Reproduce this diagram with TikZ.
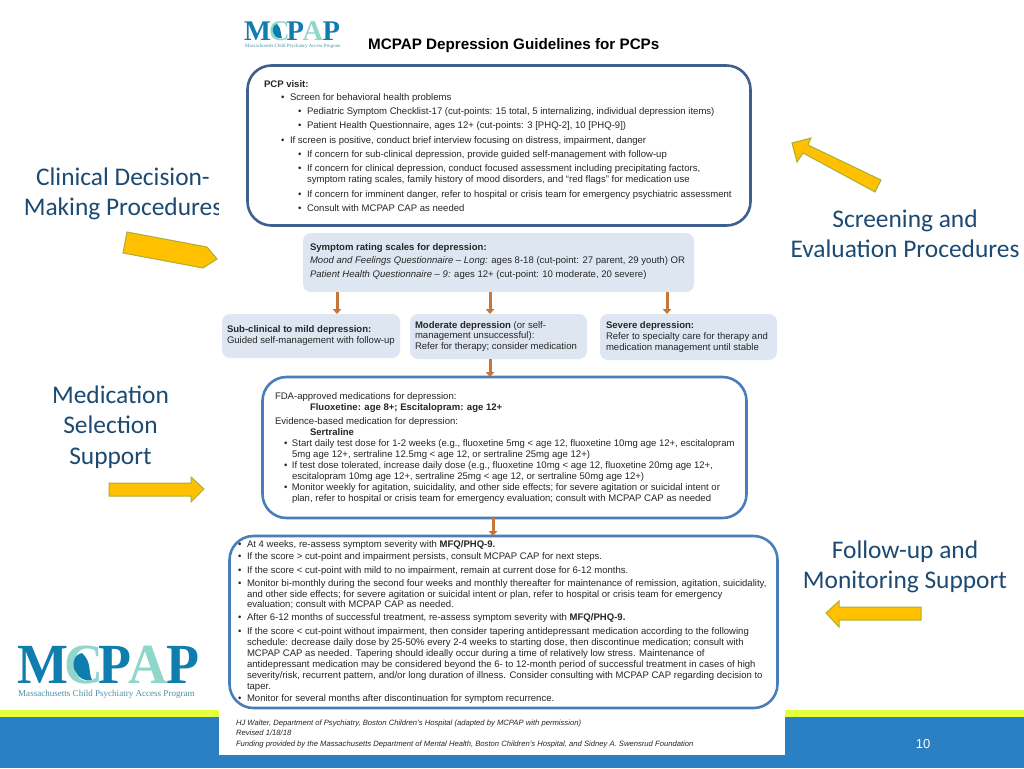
\documentclass[tikz,border=0pt]{standalone}
\usepackage{fontspec}
\usepackage{xcolor}
\usepackage{graphicx}
\setmainfont{Liberation Sans}
\newfontfamily\labelfont{Carlito}
\newfontfamily\logofont{Liberation Serif}
\usetikzlibrary{arrows.meta}
\definecolor{bandblue}{HTML}{2A80C3}
\definecolor{bandyellow}{HTML}{E4FF3E}
\definecolor{framedark}{HTML}{3F5F8F}
\definecolor{framemid}{HTML}{4A7EBB}
\definecolor{softfill}{HTML}{DEE7F1}
\definecolor{connbrown}{HTML}{C5763A}
\definecolor{gold}{HTML}{FFC000}
\definecolor{goldedge}{HTML}{A9AE3C}
\definecolor{labelblue}{HTML}{1C4A72}
\definecolor{logoblue}{HTML}{0F7EAE}
\definecolor{logoteal}{HTML}{8FD6CB}
\definecolor{logosub}{HTML}{4E8FA3}
\definecolor{bodyink}{HTML}{262626}
\newcount\tlc
\newcommand{\tl}[4][]{\global\advance\tlc by 1
  \node[doctext,#1] (tl\the\tlc) at (#2,#3+3.2) {#4};}
\newcommand{\bl}[5][]{\global\advance\tlc by 1
  \node[doctext,#1] (tl\the\tlc) at (#2,#4+3.2) {\makebox[#3pt][l]{\textbullet}#5};}
\tikzset{
  doctext/.style={anchor=base west,inner sep=0pt,outer sep=0pt,text=bodyink,font=\fontsize{9.55}{11}\selectfont},
  footnotetext/.style={font=\fontsize{7.65}{9}\itshape\selectfont},
  framebox/.style={draw=framemid,line width=2.6pt,fill=white,rounded corners=24pt,inner sep=0pt,outer sep=0pt},
  softbox/.style={fill=softfill,draw=none,rounded corners=8pt,inner sep=0pt,outer sep=0pt},
  conn/.style={draw=connbrown,line width=3pt,-{Triangle[length=5pt,width=8.5pt,fill=connbrown]}},
  goldarrow/.style={fill=gold,draw=goldedge,line width=1pt,line join=miter},
  sidelabel/.style={inner sep=0pt,text=labelblue,align=center,font=\labelfont\fontsize{25.4}{30.5}\selectfont},
}
\begin{document}
\begin{tikzpicture}[x=1pt,y=-1pt]
\useasboundingbox (0,0) rectangle (1024,768);
\fill[white] (0,0) rectangle (1024,768);
% slide bands
\fill[bandyellow] (0,709.5) rectangle (1024,717);
\fill[bandblue] (0,717) rectangle (1024,768);
% side labels (the guideline page covers their edge)
\node[sidelabel] (clinical) at (123,194) {Clinical Decision-\\Making Procedures};
\node[sidelabel] (screening) at (905,233.8) {Screening and\\Evaluation Procedures};
\node[sidelabel] (medication) at (110.5,427) {Medication\\Selection\\Support};
\node[sidelabel] (followup) at (905,567) {Follow-up and\\Monitoring Support};
% guideline page
\fill[white] (219,0) rectangle (785,755);
% gold arrows
\draw[goldarrow] (127,232) -- (207,247) -- (217,259) -- (203,268) -- (123,253) -- cycle;
\draw[goldarrow] (792,143) -- (811,138) -- (808,145) -- (881,180) -- (875,192) -- (803,153) -- (797,162) -- cycle;
\draw[goldarrow] (109,483) -- (191,483) -- (191,477) -- (204,489) -- (191,502) -- (191,496) -- (109,496) -- cycle;
\draw[goldarrow] (826,613) -- (839,601) -- (839,607) -- (921,607) -- (921,620) -- (839,620) -- (839,627) -- cycle;
% large logo
\node[inner sep=0pt,anchor=base west,font=\logofont\bfseries\fontsize{54}{54}\selectfont] (biglogo) at (17,683)
  {\scalebox{1}[1.05]{\textcolor{logoblue}{M}\kern-4pt\textcolor{logoteal}{C}\kern-5pt\textcolor{logoblue}{P}\kern-3pt\textcolor{logoteal}{A}\kern-1pt\textcolor{logoblue}{P}}};
\fill[logoblue] (82,653) .. controls (72,655) and (72,668) .. (76,672) .. controls (78,678) and (86,682) .. (92,680) .. controls (88,672) and (92,662) .. (82,653) -- cycle;
\node[inner sep=0pt,anchor=base west,text=logosub,font=\logofont\fontsize{9.05}{10}\selectfont] (bigsub) at (18,696.5) {Massachusetts Child Psychiatry Access Program};
% small logo
\node[inner sep=0pt,anchor=base west,font=\logofont\bfseries\fontsize{28.5}{29}\selectfont] (smalllogo) at (244,41)
  {\textcolor{logoblue}{M}\kern-2pt\textcolor{logoteal}{C}\kern-3pt\textcolor{logoblue}{P}\kern-1.5pt\textcolor{logoteal}{A}\kern-.5pt\textcolor{logoblue}{P}};
\fill[logoblue] (277,24) .. controls (272,25) and (272,32) .. (274,34) .. controls (275,37) and (279,39) .. (282,38) .. controls (280,34) and (282,29) .. (277,24) -- cycle;
\node[inner sep=0pt,anchor=base west,text=logosub,font=\logofont\fontsize{4.9}{6}\selectfont] (smallsub) at (245,48) {Massachusetts Child Psychiatry Access Program};
% title
\node[inner sep=0pt,anchor=base west,text=black,font=\fontsize{15.2}{18}\bfseries\selectfont] (title) at (368,49) {MCPAP Depression Guidelines for PCPs};
% frames
\node[framebox,draw=framedark,minimum width=503pt,minimum height=160pt] (pcp) at (499,145.5) {};
\node[softbox,minimum width=391pt,minimum height=59pt] (scales) at (498.5,262.5) {};
\node[softbox,minimum width=178pt,minimum height=44pt] (sub) at (311,336) {};
\node[softbox,minimum width=177pt,minimum height=45pt] (mod) at (498.5,336.5) {};
\node[softbox,minimum width=177pt,minimum height=46pt] (sev) at (688.5,337) {};
\node[framebox,minimum width=484pt,minimum height=141pt] (med) at (504.5,447.5) {};
\node[framebox,minimum width=548pt,minimum height=172pt] (fup) at (503.5,622) {};
% connectors
\coordinate (c1) at (337,0);
\coordinate (c2) at (490,0);
\coordinate (c3) at (667,0);
\coordinate (c4) at (493,0);
\draw[conn] (scales.south -| c1) -- (sub.north -| c1);
\draw[conn] (scales.south -| c2) -- (mod.north -| c2);
\draw[conn] (scales.south -| c3) -- (sev.north -| c3);
\draw[conn] (mod.south -| c2) -- (med.north -| c2);
\draw[conn] (med.south -| c4) -- (fup.north -| c4);
% PCP visit
\tl{264}{84}{\bfseries PCP visit:}
\bl{281}{9}{97.3}{Screen for behavioral health problems}
\bl{298}{9}{111.3}{Pediatric Symptom Checklist-17 (cut-points: 15 total, 5 internalizing, individual depression items)}
\bl{298}{9}{125.7}{Patient Health Questionnaire, ages 12+ (cut-points: 3 [PHQ-2], 10 [PHQ-9])}
\bl{281}{9}{140}{If screen is positive, conduct brief interview focusing on distress, impairment, danger}
\bl{298}{9}{154}{If concern for sub-clinical depression, provide guided self-management with follow-up}
\bl{298}{9}{168.7}{If concern for clinical depression, conduct focused assessment including precipitating factors,}
\tl{307}{179.7}{symptom rating scales, family history of mood disorders, and “red flags” for medication use}
\bl{298}{9}{194}{If concern for imminent danger, refer to hospital or crisis team for emergency psychiatric assessment}
\bl{298}{9}{208}{Consult with MCPAP CAP as needed}
% rating scales
\tl{310}{247}{\bfseries Symptom rating scales for depression:}
\tl{310}{260.7}{\itshape Mood and Feelings Questionnaire – Long:\upshape{} ages 8-18 (cut-point: 27 parent, 29 youth) OR}
\tl{310}{274.3}{\itshape Patient Health Questionnaire – 9:\upshape{} ages 12+ (cut-point: 10 moderate, 20 severe)}
% outcomes
\tl{227}{329.7}{\bfseries Sub-clinical to mild depression:}
\tl{227}{340.7}{Guided self-management with follow-up}
\tl{415}{325}{\textbf{Moderate depression} (or self-}
\tl{415}{335.7}{management unsuccessful):}
\tl{415}{346.7}{Refer for therapy; consider medication}
\tl{606}{325.7}{\bfseries Severe depression:}
\tl{606}{336.7}{Refer to specialty care for therapy and}
\tl{606}{347.7}{medication management until stable}
% medication
\tl{275}{396.7}{FDA-approved medications for depression:}
\tl{310}{407.7}{\bfseries Fluoxetine: age 8+; Escitalopram: age 12+}
\tl{275}{421}{Evidence-based medication for depression:}
\tl{310}{432}{\bfseries Sertraline}
\bl{284}{8}{443.7}{Start daily test dose for 1-2 weeks (e.g., fluoxetine 5mg < age 12, fluoxetine 10mg age 12+, escitalopram}
\tl{292}{454.3}{5mg age 12+, sertraline 12.5mg < age 12, or sertraline 25mg age 12+)}
\bl{284}{8}{465}{If test dose tolerated, increase daily dose (e.g., fluoxetine 10mg < age 12, fluoxetine 20mg age 12+,}
\tl{292}{476.7}{escitalopram 10mg age 12+, sertraline 25mg < age 12, or sertraline 50mg age 12+)}
\bl{284}{8}{487.7}{Monitor weekly for agitation, suicidality, and other side effects; for severe agitation or suicidal intent or}
\tl{292}{498.3}{plan, refer to hospital or crisis team for emergency evaluation; consult with MCPAP CAP as needed}
% follow-up
\bl{238}{9}{544}{At 4 weeks, re-assess symptom severity with \textbf{MFQ/PHQ-9.}}
\bl{238}{9}{556.7}{If the score > cut-point and impairment persists, consult MCPAP CAP for next steps.}
\bl{238}{9}{570}{If the score < cut-point with mild to no impairment, remain at current dose for 6-12 months.}
\bl{238}{9}{583}{Monitor bi-monthly during the second four weeks and monthly thereafter for maintenance of remission, agitation, suicidality,}
\tl{247}{594}{and other side effects; for severe agitation or suicidal intent or plan, refer to hospital or crisis team for emergency}
\tl{247}{604.7}{evaluation; consult with MCPAP CAP as needed.}
\bl{238}{9}{617.7}{After 6-12 months of successful treatment, re-assess symptom severity with \textbf{MFQ/PHQ-9.}}
\bl{238}{9}{631}{If the score < cut-point without impairment, then consider tapering antidepressant medication according to the following}
\tl{247}{642}{schedule: decrease daily dose by 25-50\% every 2-4 weeks to starting dose, then discontinue medication; consult with}
\tl{247}{653}{MCPAP CAP as needed.  Tapering should ideally occur during a time of relatively low stress.  Maintenance of}
\tl{247}{664}{antidepressant medication may be considered beyond the 6- to 12-month period of successful treatment in cases of high}
\tl{247}{675}{severity/risk, recurrent pattern, and/or long duration of illness.  Consider consulting with MCPAP CAP regarding decision to}
\tl{247}{686}{taper.}
\bl{238}{9}{698}{Monitor for several months after discontinuation for symptom recurrence.}
% footer
\tl[footnotetext]{236}{722.5}{HJ Walter, Department of Psychiatry, Boston Children’s Hospital (adapted by MCPAP with permission)}
\tl[footnotetext]{236}{732.5}{Revised 1/18/18}
\tl[footnotetext]{236}{743}{Funding provided by the Massachusetts Department of Mental Health, Boston Children’s Hospital, and Sidney A. Swensrud Foundation}
% page number
\node[inner sep=0pt,text=white,font=\fontsize{13}{15}\selectfont] (pageno) at (923,744) {10};
\end{tikzpicture}
\end{document}
